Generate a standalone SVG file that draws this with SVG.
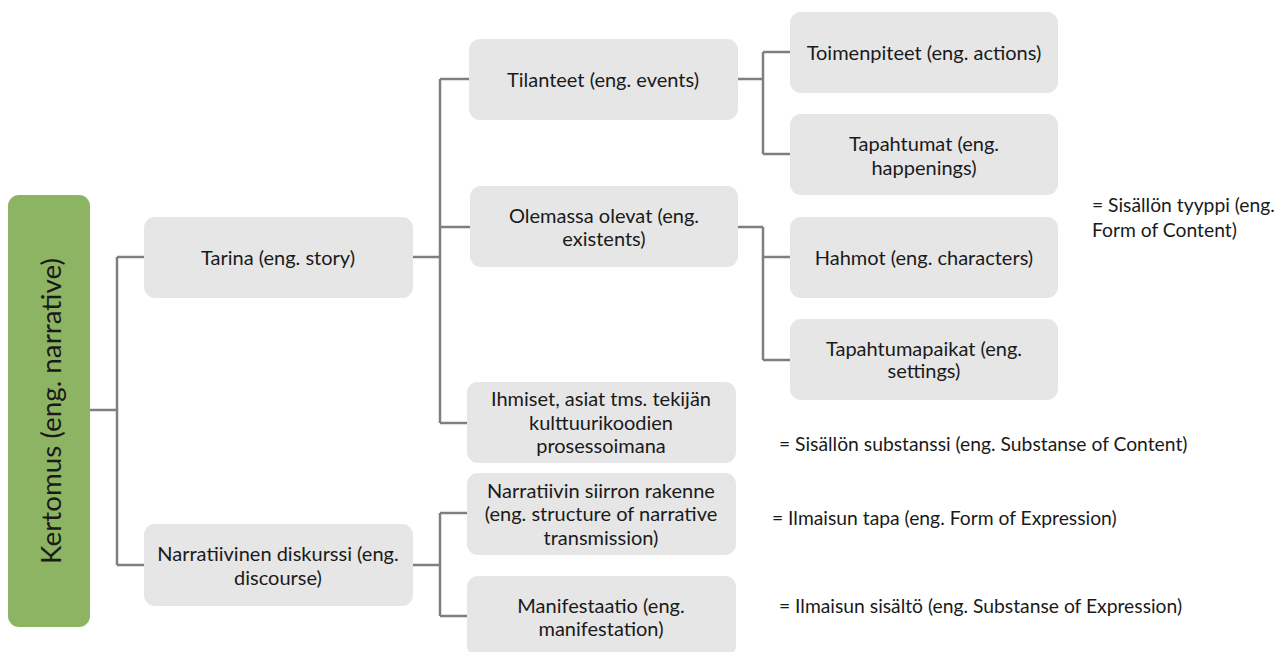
<svg xmlns="http://www.w3.org/2000/svg" width="1280" height="652" viewBox="0 0 1280 652">
<style>
.box{fill:#e6e6e6}
.root{fill:#8db462}
.t{font-family:Lato,"Open Sans","Liberation Sans",sans-serif;font-size:20px;fill:#1a1a1a;text-anchor:middle;dominant-baseline:central}
.n{font-family:Lato,"Open Sans","Liberation Sans",sans-serif;font-size:19.3px;fill:#1a1a1a;dominant-baseline:central}
.rt{font-family:Lato,"Open Sans","Liberation Sans",sans-serif;font-size:27.8px;fill:#1a1a1a;text-anchor:middle;dominant-baseline:central}
.c{fill:none;stroke:#7f7f7f;stroke-width:2.5}
</style>
<rect width="1280" height="652" fill="#ffffff"/>
<g id="connectors">
<path class="c" d="M90 410H117M117 257V565M117 257H144M117 565H144"/>
<path class="c" d="M413 257H440M440 79V423M440 79H469M440 227H470M440 423H467"/>
<path class="c" d="M738 79H763M763 52V154M763 52H790M763 154H790"/>
<path class="c" d="M738 227H763M763 227V360M763 257H790M763 360H790"/>
<path class="c" d="M413 565H440M440 513V616M440 513H467M440 616H467"/>
</g>
<g id="kertomus">
<rect class="root" x="8" y="195" width="82" height="432" rx="11"/>
<text class="rt" transform="translate(50 411) rotate(-90)">Kertomus (eng. narrative)</text>
</g>
<g id="tarina">
<rect class="box" x="144" y="217" width="269" height="81" rx="11"/>
<text class="t" x="278" y="257">Tarina (eng. story)</text>
</g>
<g id="diskurssi">
<rect class="box" x="144" y="524" width="269" height="82" rx="11"/>
<text class="t" x="278" y="553">Narratiivinen diskurssi (eng.</text>
<text class="t" x="278" y="577">discourse)</text>
</g>
<g id="tilanteet">
<rect class="box" x="469" y="39" width="269" height="81" rx="11"/>
<text class="t" x="603" y="79">Tilanteet (eng. events)</text>
</g>
<g id="olemassa">
<rect class="box" x="470" y="186" width="268" height="81" rx="11"/>
<text class="t" x="604" y="215">Olemassa olevat (eng.</text>
<text class="t" x="604" y="238">existents)</text>
</g>
<g id="ihmiset">
<rect class="box" x="467" y="382" width="269" height="81" rx="11"/>
<text class="t" x="601" y="398">Ihmiset, asiat tms. tekijän</text>
<text class="t" x="601" y="422">kulttuurikoodien</text>
<text class="t" x="601" y="445">prosessoimana</text>
</g>
<g id="siirron">
<rect class="box" x="467" y="473" width="269" height="82" rx="11"/>
<text class="t" x="601" y="490">Narratiivin siirron rakenne</text>
<text class="t" x="601" y="513">(eng. structure of narrative</text>
<text class="t" x="601" y="537">transmission)</text>
</g>
<g id="manifestaatio">
<rect class="box" x="467" y="576" width="269" height="81" rx="11"/>
<text class="t" x="601" y="605">Manifestaatio (eng.</text>
<text class="t" x="601" y="628">manifestation)</text>
</g>
<g id="toimenpiteet">
<rect class="box" x="790" y="12" width="268" height="81" rx="11"/>
<text class="t" x="924" y="52">Toimenpiteet (eng. actions)</text>
</g>
<g id="tapahtumat">
<rect class="box" x="790" y="114" width="268" height="81" rx="11"/>
<text class="t" x="924" y="143">Tapahtumat (eng.</text>
<text class="t" x="924" y="167">happenings)</text>
</g>
<g id="hahmot">
<rect class="box" x="790" y="217" width="268" height="81" rx="11"/>
<text class="t" x="924" y="257">Hahmot (eng. characters)</text>
</g>
<g id="tapahtumapaikat">
<rect class="box" x="790" y="319" width="268" height="81" rx="11"/>
<text class="t" x="924" y="348">Tapahtumapaikat (eng.</text>
<text class="t" x="924" y="370">settings)</text>
</g>
<g id="labels">
<text class="n" x="1092" y="204">= Sisällön tyyppi (eng.</text>
<text class="n" x="1092" y="229">Form of Content)</text>
<text class="n" x="779" y="443">= Sisällön substanssi (eng. Substanse of Content)</text>
<text class="n" x="772" y="517">= Ilmaisun tapa (eng. Form of Expression)</text>
<text class="n" x="779" y="605">= Ilmaisun sisältö (eng. Substanse of Expression)</text>
</g>
</svg>
